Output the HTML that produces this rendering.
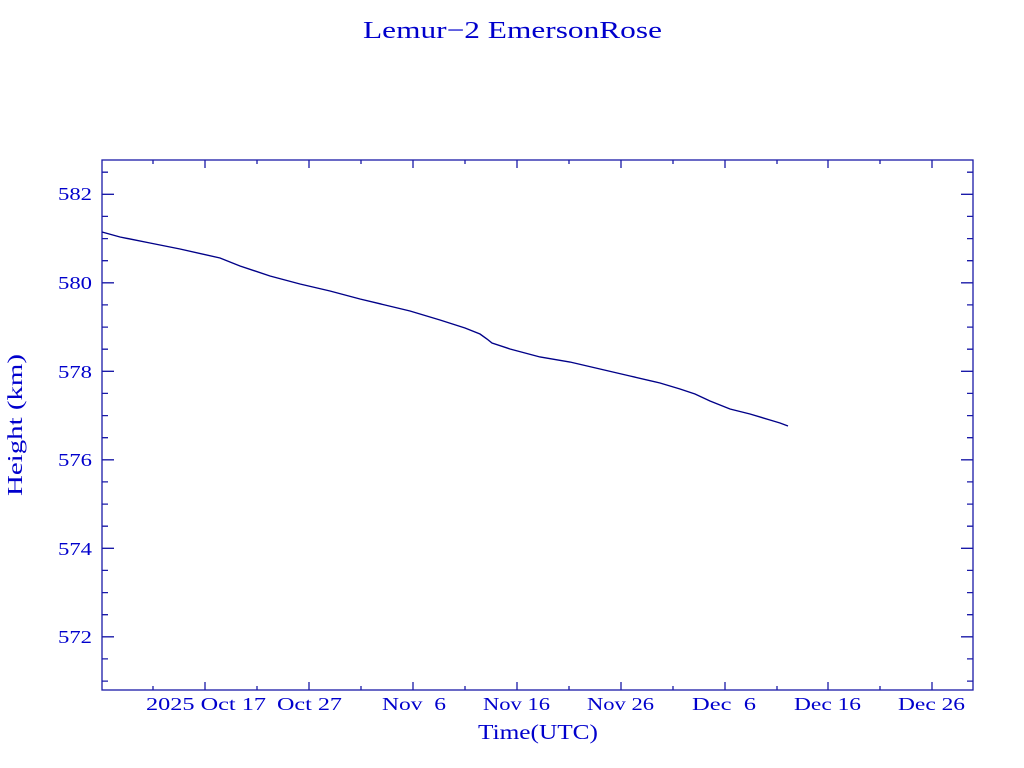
<!DOCTYPE html>
<html><head><meta charset="utf-8"><style>html,body{margin:0;padding:0;background:#fff}svg{display:block}text{white-space:pre}</style></head>
<body>
<svg width="1024" height="768" viewBox="0 0 1024 768" xmlns="http://www.w3.org/2000/svg">
<g font-family="Liberation Serif, serif" fill="#0000cc">
<text x="363" y="38" font-size="24" textLength="299" lengthAdjust="spacingAndGlyphs">Lemur−2 EmersonRose</text>
<text x="478" y="739" font-size="21" textLength="120" lengthAdjust="spacingAndGlyphs">Time(UTC)</text>
<text transform="translate(22,496) rotate(-90)" font-size="21" textLength="142" lengthAdjust="spacingAndGlyphs">Height (km)</text>
<g font-size="18">
<text x="58" y="200" textLength="34" lengthAdjust="spacingAndGlyphs">582</text>
<text x="58" y="289" textLength="34" lengthAdjust="spacingAndGlyphs">580</text>
<text x="58" y="378" textLength="34" lengthAdjust="spacingAndGlyphs">578</text>
<text x="58" y="466" textLength="34" lengthAdjust="spacingAndGlyphs">576</text>
<text x="58" y="555" textLength="34" lengthAdjust="spacingAndGlyphs">574</text>
<text x="58" y="643" textLength="34" lengthAdjust="spacingAndGlyphs">572</text>
<text x="146" y="710" textLength="120" lengthAdjust="spacingAndGlyphs">2025 Oct 17</text>
<text x="277" y="710" textLength="65" lengthAdjust="spacingAndGlyphs">Oct 27</text>
<text x="382" y="710" textLength="64" lengthAdjust="spacingAndGlyphs">Nov&#160;&#160;6</text>
<text x="483" y="710" textLength="67" lengthAdjust="spacingAndGlyphs">Nov 16</text>
<text x="587" y="710" textLength="67" lengthAdjust="spacingAndGlyphs">Nov 26</text>
<text x="692" y="710" textLength="64" lengthAdjust="spacingAndGlyphs">Dec&#160;&#160;6</text>
<text x="794" y="710" textLength="67" lengthAdjust="spacingAndGlyphs">Dec 16</text>
<text x="898" y="710" textLength="67" lengthAdjust="spacingAndGlyphs">Dec 26</text>
</g></g>
<g stroke="#1a1aa8" stroke-width="1.3" fill="none">
<rect x="102" y="160" width="871" height="530"/>
<path d="M205 690v-8M309 690v-8M413 690v-8M517 690v-8M621 690v-8M725 690v-8M828 690v-8M932 690v-8
M205 160v8M309 160v8M413 160v8M517 160v8M621 160v8M725 160v8M828 160v8M932 160v8
M153 690v-4M257 690v-4M361 690v-4M465 690v-4M569 690v-4M673 690v-4M777 690v-4M880 690v-4
M153 160v4M257 160v4M361 160v4M465 160v4M569 160v4M673 160v4M777 160v4M880 160v4
M102 194.3h12M102 282.8h12M102 371.3h12M102 459.8h12M102 548.3h12M102 636.8h12
M973 194.3h-12M973 282.8h-12M973 371.3h-12M973 459.8h-12M973 548.3h-12M973 636.8h-12
M102 172.2h6M102 216.4h6M102 238.6h6M102 260.7h6M102 304.9h6M102 327.1h6M102 349.2h6M102 393.4h6M102 415.6h6M102 437.7h6M102 481.9h6M102 504.1h6M102 526.2h6M102 570.4h6M102 592.6h6M102 614.7h6M102 658.9h6M102 681.1h6
M973 172.2h-6M973 216.4h-6M973 238.6h-6M973 260.7h-6M973 304.9h-6M973 327.1h-6M973 349.2h-6M973 393.4h-6M973 415.6h-6M973 437.7h-6M973 481.9h-6M973 504.1h-6M973 526.2h-6M973 570.4h-6M973 592.6h-6M973 614.7h-6M973 658.9h-6M973 681.1h-6"/>
</g>
<polyline fill="none" stroke="#000088" stroke-width="1.4" points="102,232 120,237 150,243 180,249 220,258 240,266 270,276 300,284 330,291 360,299 385,305 410,311 440,320 465,328 480,334 487,339 492,343 510,349 540,357 570,362 600,369 630,376 660,383 680,389 695,394 710,401 730,409 750,414 770,420 780,423 788,426"/>
</svg>
</body></html>
